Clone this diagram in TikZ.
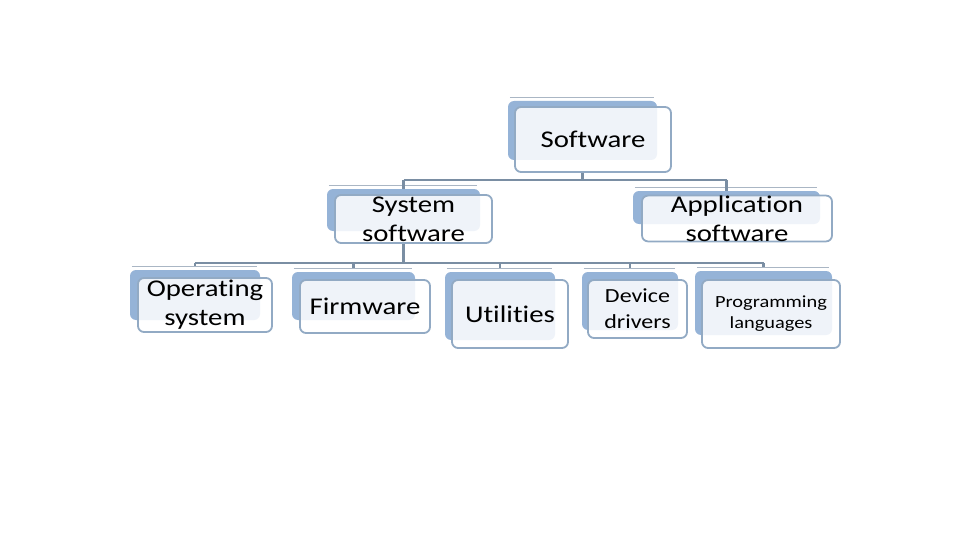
\documentclass[tikz,border=0pt]{standalone}
\usepackage{fontspec}
\setmainfont[Ligatures=NoCommon, FakeStretch=1.2]{Carlito}
\definecolor{backblue}{RGB}{149,179,215}
\definecolor{frameblue}{RGB}{146,170,196}
\definecolor{connblue}{RGB}{122,142,163}
\definecolor{hairgray}{RGB}{170,182,196}
\tikzset{
  backbox/.style={fill=backblue, draw=none, rounded corners=6pt, inner sep=0pt},
  frontbox/.style={fill=white, fill opacity=0.85, text opacity=1, draw=frameblue, line width=1.8pt,
                   rounded corners=6pt, inner sep=0pt, align=center, font=\fontsize{24}{29}\selectfont},
  conn/.style={draw=connblue, line width=2.8pt},
  hair/.style={draw=hairgray, line width=0.8pt}
}
\begin{document}
\begin{tikzpicture}[x=1pt,y=-1pt]
\useasboundingbox[fill=white] (0,0) rectangle (960,540);

% back boxes
\node[backbox, minimum width=149, minimum height=59] (swb) at (582.5,130.5) {};
\node[backbox, minimum width=153, minimum height=42] (ssb) at (403.5,210) {};
\node[backbox, minimum width=187, minimum height=33] (asb) at (726.5,207.5) {};
\node[backbox, minimum width=130, minimum height=50] (osb) at (195,295) {};
\node[backbox, minimum width=123, minimum height=48] (fwb) at (353.5,296) {};
\node[backbox, minimum width=110, minimum height=68] (utb) at (500,306) {};
\node[backbox, minimum width=96, minimum height=58] (ddb) at (630,301) {};
\node[backbox, minimum width=137, minimum height=64] (plb) at (763.5,303) {};

% thin lines above back boxes
\foreach \b in {swb,ssb,asb,osb,fwb,utb,ddb,plb}{
  \draw[hair] ([xshift=2pt,yshift=3.5pt]\b.north west) -- ([xshift=-3pt,yshift=3.5pt]\b.north east);
}

% front boxes
\node[frontbox, minimum width=156, minimum height=65] (sw) at (593,139.5) {Software};
\node[frontbox, minimum width=157, minimum height=48] (ss) at (413.5,219) {System\\software};
\node[frontbox, minimum width=190, minimum height=43] (as) at (737,218.5) {Application\\software};
\node[frontbox, minimum width=134, minimum height=54] (os) at (205,305) {Operating\\system};
\node[frontbox, minimum width=130, minimum height=53] (fw) at (365,306.5) {Firmware};
\node[frontbox, minimum width=116, minimum height=68] (ut) at (510,314) {Utilities};
\node[frontbox, minimum width=99, minimum height=58, font=\fontsize{20}{26}\selectfont] (dd) at (637.5,309) {Device\\drivers};
\node[frontbox, minimum width=138, minimum height=68, font=\fontsize{17}{21}\selectfont] (pl) at (771,314) {Programming\\languages};

% buses
\coordinate (busA) at (0,180);
\coordinate (busB) at (0,263);

\draw[conn] (swb.south |- sw.south) -- (swb.south |- busA);
\draw[conn] (ssb.north |- busA) -- (asb.north |- busA);
\draw[conn] (ssb.north |- busA) -- (ssb.north);
\draw[conn] (asb.north |- busA) -- (asb.north);

\draw[conn] (ssb.south |- ss.south) -- (ssb.south |- busB);
\draw[conn] (osb.north |- busB) -- (plb.north |- busB);
\foreach \b in {osb,fwb,utb,ddb,plb}{
  \draw[conn] (\b.north |- busB) -- ([yshift=4pt]\b.north);
}
\end{tikzpicture}
\end{document}
